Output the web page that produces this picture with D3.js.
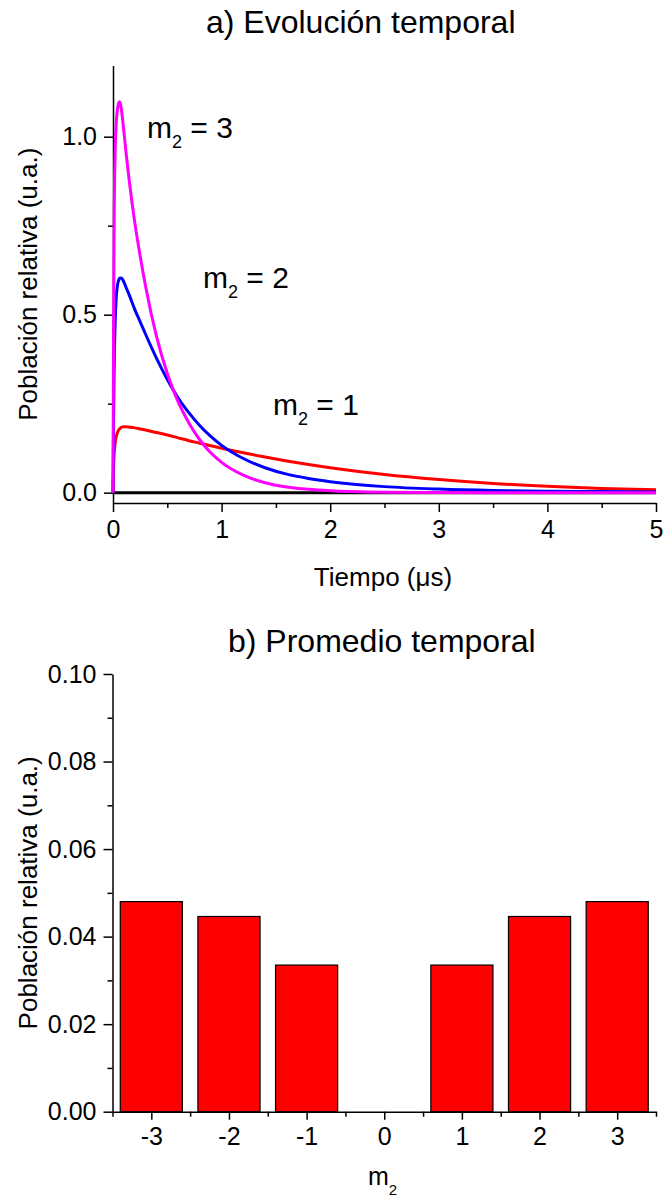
<!DOCTYPE html>
<html>
<head>
<meta charset="utf-8">
<script src="https://cdn.jsdelivr.net/npm/d3@7"></script>
<style>
  html, body { margin: 0; padding: 0; background: #fff; }
  svg { display: block; }
  text { font-family: "Liberation Sans", Arial, sans-serif; fill: #000; }
</style>
</head>
<body>
<svg id="chart" width="663" height="1202"></svg>
<script>
// ---- Panel a) data: time (µs) and relative population for each m2 ----
const time = [0, 0.005, 0.01, 0.02, 0.03, 0.04, 0.05, 0.06, 0.07, 0.08, 0.1, 0.12, 0.15, 0.2, 0.25, 0.3, 0.4, 0.5, 0.6, 0.7, 0.8, 0.9, 1.0, 1.2, 1.4, 1.6, 1.8, 2.0, 2.5, 3.0, 3.5, 4.0, 4.5, 5.0];
const popM0 = [0, 0, 0, 0, 0, 0, 0, 0, 0, 0, 0, 0, 0, 0, 0, 0, 0, 0, 0, 0, 0, 0, 0, 0, 0, 0, 0, 0, 0, 0, 0, 0, 0, 0];
const popM1 = [0, 0.07, 0.105, 0.14, 0.158, 0.168, 0.175, 0.179, 0.182, 0.184, 0.185, 0.185, 0.184, 0.182, 0.179, 0.176, 0.169, 0.162, 0.154, 0.146, 0.139, 0.132, 0.125, 0.112, 0.1, 0.089, 0.079, 0.07, 0.051, 0.037, 0.026, 0.018, 0.012, 0.008];
const popM2 = [0, 0.2, 0.34, 0.48, 0.55, 0.58, 0.595, 0.602, 0.603, 0.602, 0.592, 0.577, 0.555, 0.515, 0.48, 0.445, 0.378, 0.318, 0.266, 0.224, 0.188, 0.158, 0.133, 0.096, 0.07, 0.052, 0.04, 0.031, 0.017, 0.010, 0.006, 0.004, 0.003, 0.002];
const popM3 = [0, 0.45, 0.74, 0.96, 1.04, 1.075, 1.093, 1.098, 1.09, 1.07, 1.015, 0.955, 0.875, 0.76, 0.665, 0.58, 0.44, 0.335, 0.255, 0.195, 0.148, 0.112, 0.085, 0.049, 0.028, 0.016, 0.0093, 0.0054, 0.0014, 0.0004, 0.0001, 0, 0, 0];
const seriesColors = ["#000000", "#ff0000", "#0000ff", "#ff00ff"];
const annotations = [{ m: 3, x: 147, y: 138 }, { m: 2, x: 203, y: 288 }, { m: 1, x: 273, y: 415 }];
const xTicksA = [0, 1, 2, 3, 4, 5];
const xMinorA = [0.5, 1.5, 2.5, 3.5, 4.5];
const yTicksA = [0, 0.5, 1.0];
const yMinorA = [0.25, 0.75];

// ---- Panel b) data: time-averaged population per m2 ----
const m2Values = [-3, -2, -1, 0, 1, 2, 3];
const avgPop = [0.048, 0.0446, 0.0335, 0, 0.0335, 0.0446, 0.048];
const yTicksB = [0, 0.02, 0.04, 0.06, 0.08, 0.10];
const yMinorB = [0.01, 0.03, 0.05, 0.07, 0.09];
const xMinorB = [-3.5, -2.5, -1.5, -0.5, 0.5, 1.5, 2.5, 3.5];

const svg = d3.select("#chart");
svg.append("rect").attr("width", 663).attr("height", 1202).attr("fill", "#fff");

const TICK_FONT = 25, LABEL_FONT = 26, TITLE_FONT = 32;
const intFmt = d => String(d); // hyphen-minus like the original

function styleAxis(g) {
  g.selectAll("path.domain").attr("stroke", "#000").attr("stroke-width", 1.5);
  g.selectAll(".tick line").attr("stroke", "#000").attr("stroke-width", 1.5);
  g.selectAll(".tick text").style("font-family", '"Liberation Sans", Arial, sans-serif').style("font-size", TICK_FONT + "px").attr("fill", "#000");
}

// ================= Panel a =================
const xA = d3.scaleLinear().domain([0, 5]).range([113, 656]);
const yA = d3.scaleLinear().domain([-0.029, 1.2]).range([503, 65.5]);

const gA = svg.append("g");
gA.append("g").attr("transform", `translate(0,${yA.range()[0]})`)
  .call(d3.axisBottom(xA).tickValues(xMinorA).tickSize(5).tickSizeOuter(0).tickFormat(""))
  .call(g => g.select(".domain").remove()).call(styleAxis);
gA.append("g").attr("transform", `translate(${xA.range()[0]},0)`)
  .call(d3.axisLeft(yA).tickValues(yMinorA).tickSize(5).tickSizeOuter(0).tickFormat(""))
  .call(g => g.select(".domain").remove()).call(styleAxis);
gA.append("g").attr("transform", `translate(0,${yA.range()[0]})`)
  .call(d3.axisBottom(xA).tickValues(xTicksA).tickSize(9).tickSizeOuter(0).tickPadding(8).tickFormat(intFmt))
  .call(styleAxis);
gA.append("g").attr("transform", `translate(${xA.range()[0]},0)`)
  .call(d3.axisLeft(yA).tickValues(yTicksA).tickSize(9).tickSizeOuter(0).tickPadding(7).tickFormat(d3.format(".1f")))
  .call(styleAxis);

const line = d3.line().x((d, i) => xA(time[i])).y(d => yA(d)).curve(d3.curveMonotoneX);
[popM0, popM1, popM2, popM3].forEach((s, k) => {
  gA.append("path").datum(s).attr("d", line)
    .attr("fill", "none").attr("stroke", seriesColors[k]).attr("stroke-width", 3)
    .attr("stroke-linejoin", "round");
});

function mLabel(g, x, y, val, size, subSize, dy) {
  const t = g.append("text").attr("x", x).attr("y", y).style("font-size", size + "px");
  t.append("tspan").text("m");
  t.append("tspan").attr("dy", dy).style("font-size", subSize + "px").text("2");
  if (val !== null) t.append("tspan").attr("dy", -dy).text(" = " + val);
  return t;
}
annotations.forEach(a => mLabel(gA, a.x, a.y, a.m, 30, 18, 10));

svg.append("text").attr("x", 206).attr("y", 33).style("font-size", TITLE_FONT + "px").text("a) Evolución temporal");
svg.append("text").attr("x", 383).attr("y", 586).attr("text-anchor", "middle").style("font-size", LABEL_FONT + "px").text("Tiempo (μs)");
svg.append("text").attr("transform", `translate(37,${(65.5 + 503) / 2}) rotate(-90)`).attr("text-anchor", "middle")
  .style("font-size", LABEL_FONT + "px").text("Población relativa (u.a.)");

// ================= Panel b =================
const xB = d3.scaleLinear().domain([-3.5, 3.5]).range([112.5, 656]);
const yB = d3.scaleLinear().domain([0, 0.1]).range([1111.7, 674]);
const gB = svg.append("g");

const barW = 0.8;
gB.selectAll("rect.bar").data(m2Values.map((m, i) => ({ m, v: avgPop[i] })).filter(d => d.v > 0))
  .enter().append("rect").attr("class", "bar")
  .attr("x", d => xB(d.m - barW / 2))
  .attr("width", d => xB(d.m + barW / 2) - xB(d.m - barW / 2))
  .attr("y", d => yB(d.v))
  .attr("height", d => yB(0) - yB(d.v))
  .attr("fill", "#ff0000").attr("stroke", "#000").attr("stroke-width", 1.2);

gB.append("g").attr("transform", `translate(0,${yB.range()[0]})`)
  .call(d3.axisBottom(xB).tickValues(xMinorB).tickSize(5).tickSizeOuter(0).tickFormat(""))
  .call(g => g.select(".domain").remove()).call(styleAxis);
gB.append("g").attr("transform", `translate(${xB.range()[0]},0)`)
  .call(d3.axisLeft(yB).tickValues(yMinorB).tickSize(5).tickSizeOuter(0).tickFormat(""))
  .call(g => g.select(".domain").remove()).call(styleAxis);
gB.append("g").attr("transform", `translate(0,${yB.range()[0]})`)
  .call(d3.axisBottom(xB).tickValues(m2Values).tickSize(8).tickSizeOuter(0).tickPadding(8).tickFormat(intFmt))
  .call(styleAxis);
gB.append("g").attr("transform", `translate(${xB.range()[0]},0)`)
  .call(d3.axisLeft(yB).tickValues(yTicksB).tickSize(9).tickSizeOuter(0).tickPadding(7).tickFormat(d3.format(".2f")))
  .call(styleAxis);

svg.append("text").attr("x", 228).attr("y", 652).style("font-size", TITLE_FONT + "px").text("b) Promedio temporal");
mLabel(svg, 368, 1185, null, 25, 15, 10);
svg.append("text").attr("transform", `translate(37,${(674 + 1111.7) / 2}) rotate(-90)`).attr("text-anchor", "middle")
  .style("font-size", LABEL_FONT + "px").text("Población relativa (u.a.)");
</script>
</body>
</html>
